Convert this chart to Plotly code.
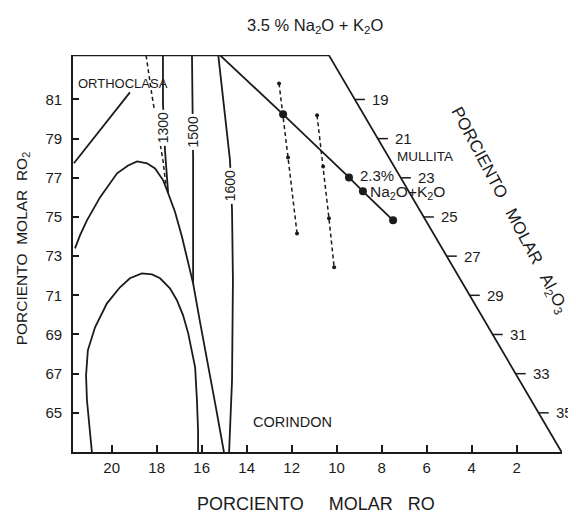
import plotly.graph_objects as go

# ---------------- data ----------------
RO_TICKS = [2, 4, 6, 8, 10, 12, 14, 16, 18, 20]
RO2_TICKS = [65, 67, 69, 71, 73, 75, 77, 79, 81]
AL2O3_TICKS = [19, 21, 23, 25, 27, 29, 31, 33, 35]

# diagram frame (RO, RO2)
FRAME_LEFT_RO = 21.72
FRAME_TOP_RO2 = 83.25
FRAME_BOTTOM_RO2 = 63.0
FRAME_TOPRIGHT_RO = 10.34
FRAME_BOTTOMRIGHT_RO = 0.0

# outer field boundary (dome + descending boundary)
OUTER_RO = [21.63, 21.41, 21.10, 20.52, 19.76, 19.27, 18.87, 18.43, 18.07, 17.71,
            17.49, 17.18, 16.87, 16.60, 16.38, 16.07, 15.72, 15.36, 15.01]
OUTER_RO2 = [73.40, 74.06, 74.83, 76.00, 77.23, 77.63, 77.84, 77.74, 77.48, 76.87,
             76.21, 75.24, 73.96, 72.68, 71.61, 69.62, 67.53, 65.23, 63.0]

# inner dome
INNER_RO = [20.88, 21.01, 21.10, 21.14, 21.06, 20.74, 20.21, 19.63, 19.19, 18.66, 18.21,
            17.85, 17.41, 17.10, 16.83, 16.60, 16.43, 16.29, 16.21, 16.16, 16.16]
INNER_RO2 = [63.0, 64.62, 65.64, 66.91, 68.19, 69.37, 70.59, 71.41, 71.87, 72.12, 72.07,
             71.87, 71.36, 70.75, 69.99, 69.07, 68.19, 67.32, 65.64, 64.11, 63.0]

# orthoclase boundary
ORTHO_RO = [21.68, 19.19]
ORTHO_RO2 = [77.74, 81.36]

# isotherms
ISO1300_RO = [17.72, 17.72, 17.63, 17.49]
ISO1300_RO2 = [83.25, 80.80, 78.40, 76.21]
DASH1300_RO = [18.47, 18.21, 17.72, 17.60]
DASH1300_RO2 = [83.25, 81.21, 77.89, 76.70]
ISO1500_RO = [16.43, 16.38, 16.38]
ISO1500_RO2 = [83.25, 78.0, 71.61]
ISO1600_RO = [15.27, 14.92, 14.74, 14.65, 14.61, 14.65, 14.78]
ISO1600_RO2 = [83.35, 79.93, 77.89, 75.34, 71.77, 66.66, 63.0]

# compositions with Na2O + K2O (solid line, big dots)
TIE_RO = [15.27, 12.38, 9.45, 8.83, 7.49]
TIE_RO2 = [83.35, 80.24, 77.02, 76.31, 74.83]

# dashed series (small dots)
SER_A_RO = [12.56, 12.38, 12.16, 11.76]
SER_A_RO2 = [81.82, 80.24, 78.04, 74.16]
SER_B_RO = [10.87, 10.60, 10.34, 10.11]
SER_B_RO2 = [80.19, 77.58, 74.93, 72.43]

# ---------------- styling ----------------
INK = "#1b1b1b"
FONT = "Liberation Sans"
LW = 1.8

fig = go.Figure()

def line(xs, ys, dash="solid", width=LW, mode="lines", msize=0, clip=True):
    fig.add_trace(go.Scatter(
        x=xs, y=ys, mode=mode,
        line=dict(color=INK, width=width, dash=dash),
        marker=dict(color=INK, size=msize),
        cliponaxis=clip, hoverinfo="skip", showlegend=False))

# frame: top edge + slanted right edge
line([FRAME_LEFT_RO, FRAME_TOPRIGHT_RO, FRAME_BOTTOMRIGHT_RO],
     [FRAME_TOP_RO2, FRAME_TOP_RO2, FRAME_BOTTOM_RO2], clip=False)

# Al2O3 scale ticks along slanted edge
def edge_ro(ro2):
    return FRAME_BOTTOMRIGHT_RO + (FRAME_TOPRIGHT_RO - FRAME_BOTTOMRIGHT_RO) * \
        (ro2 - FRAME_BOTTOM_RO2) / (FRAME_TOP_RO2 - FRAME_BOTTOM_RO2)

TICK_LEN_RO = 0.45
tx, ty = [], []
for a in AL2O3_TICKS:
    r2 = 100 - a
    e = edge_ro(r2)
    tx += [e, e - TICK_LEN_RO, None]
    ty += [r2, r2, None]
line(tx, ty, width=1.5)

# curves
line(OUTER_RO, OUTER_RO2)
line(INNER_RO, INNER_RO2)
line(ORTHO_RO, ORTHO_RO2)
line(ISO1300_RO, ISO1300_RO2)
line(DASH1300_RO, DASH1300_RO2, dash="4px,3px", width=1.5)
line(ISO1500_RO, ISO1500_RO2)
line(ISO1600_RO, ISO1600_RO2, clip=False)

# dashed series with small dots
line(SER_A_RO, SER_A_RO2, dash="4px,3px", width=1.5, mode="lines+markers", msize=4)
line(SER_B_RO, SER_B_RO2, dash="4px,3px", width=1.5, mode="lines+markers", msize=4)

# tie line with big dots
line(TIE_RO, TIE_RO2, mode="lines+markers", msize=8, clip=False)

annotations = []

def label(text, x, y, size=13, xanchor="left", angle=0, xref="x", yref="y",
          bg=None, family=FONT, **kw):
    d = dict(text=text, x=x, y=y, xref=xref, yref=yref, showarrow=False,
             xanchor=xanchor, yanchor="middle", textangle=angle,
             font=dict(family=family, size=size, color=INK))
    if bg:
        d.update(bgcolor=bg, borderpad=2)
    d.update(kw)
    annotations.append(d)

# Al2O3 tick labels
for a in AL2O3_TICKS:
    r2 = 100 - a
    label(str(a), edge_ro(r2), r2, size=15, xanchor="left", xshift=15)

# isotherm labels (on white background to break the lines)
label("1300", 17.68, 79.57, size=14, xanchor="center", angle=-90, bg="white")
label("1500", 16.38, 79.32, size=14, xanchor="center", angle=-90, bg="white")
label("1600", 14.70, 76.61, size=14, xanchor="center", angle=-90, bg="white")

# field names
label("ORTHOCLASA", 21.59, 81.82, size=13)
label("MULLITA", 7.40, 78.09, size=13.5)
label("CORINDON", 13.81, 64.52, size=14.5)

# composition notes
label("2.3%", 9.05, 77.12, size=15)
label("Na<sub>2</sub>O+K<sub>2</sub>O", 8.60, 76.25, size=15.5)
label("3.5 % Na<sub>2</sub>O + K<sub>2</sub>O", 14.07, (452 - 26) / 397,
      size=16.5, yref="paper")
annotations.append(dict(
    x=TIE_RO[0], y=TIE_RO2[0], xref="x", yref="y", text="",
    showarrow=True, ax=25, ay=-22, arrowhead=2, arrowsize=1.1,
    arrowwidth=1.6, arrowcolor=INK, standoff=5))

# axis titles
label("PORCIENTO     MOLAR   RO", 10.90, (452 - 504) / 397, size=18,
      xanchor="center", yref="paper")
label("PORCIENTO  MOLAR  RO<sub>2</sub>", (22 - 73) / 489, 73.40, size=15.5,
      xanchor="center", angle=-90, xref="paper")
label("PORCIENTO   MOLAR   Al<sub>2</sub>O<sub>3</sub>", 2.35, 75.3, size=17,
      xanchor="center", angle=62)

# the page adds an 8 px body margin, so the figure is sized to fit the window
fig.update_layout(
    width=568, height=507,
    margin=dict(l=65, r=14, t=47, b=63),
    paper_bgcolor="white", plot_bgcolor="white",
    showlegend=False,
    annotations=annotations,
    font=dict(family=FONT, color=INK),
    xaxis=dict(
        range=[FRAME_LEFT_RO, -0.02],
        tickvals=RO_TICKS, ticktext=[str(v) for v in RO_TICKS],
        ticks="inside", ticklen=7, tickwidth=1.5, tickcolor=INK,
        showline=True, linecolor=INK, linewidth=1.8,
        showgrid=False, zeroline=False,
        tickfont=dict(family=FONT, size=15, color=INK),
        ticklabelstandoff=1,
    ),
    yaxis=dict(
        range=[FRAME_BOTTOM_RO2, 83.27],
        tickvals=RO2_TICKS, ticktext=[str(v) for v in RO2_TICKS],
        ticks="inside", ticklen=6, tickwidth=1.5, tickcolor=INK,
        showline=True, linecolor=INK, linewidth=1.8,
        showgrid=False, zeroline=False,
        tickfont=dict(family=FONT, size=15, color=INK),
        ticklabelstandoff=6,
    ),
)

fig.write_html("out.html")
